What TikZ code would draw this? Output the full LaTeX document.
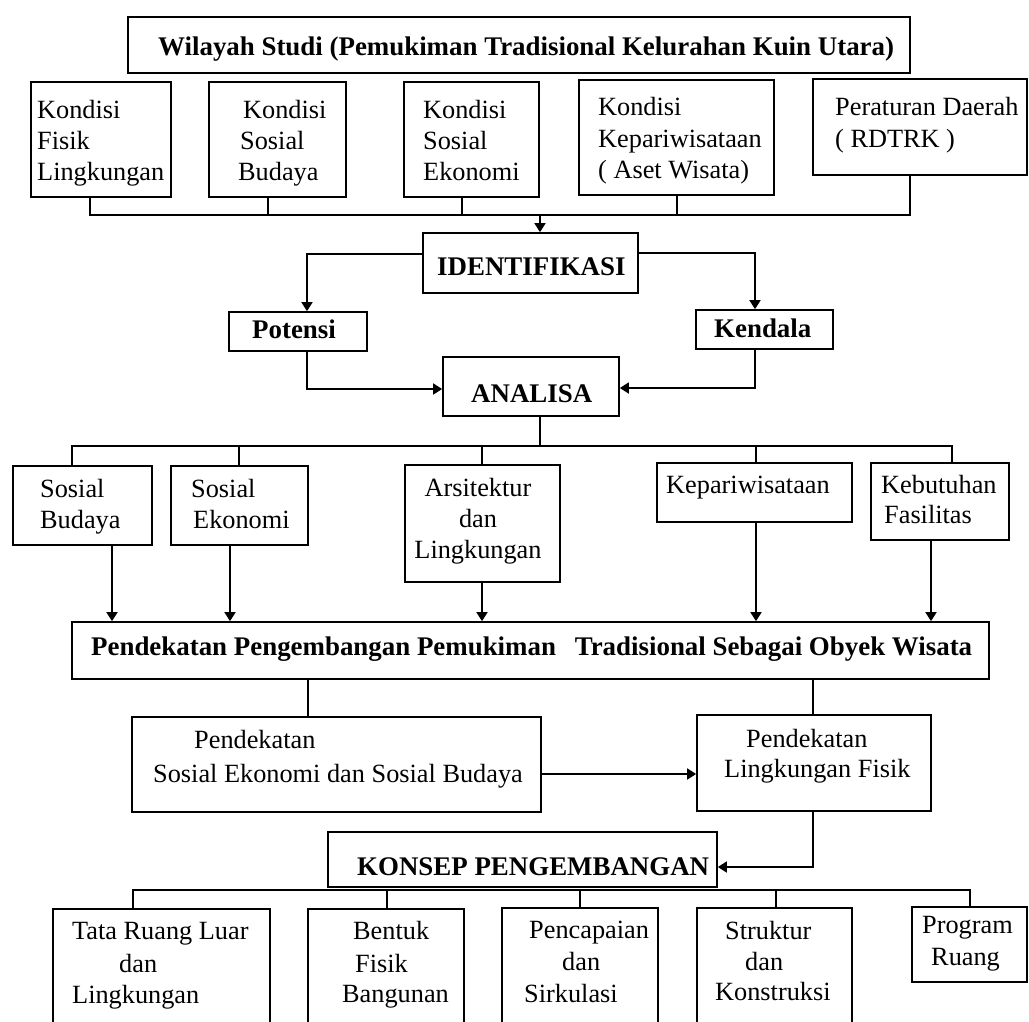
\documentclass[tikz,border=0pt]{standalone}
\usepackage{fontspec}
\setmainfont{Liberation Serif}
\usetikzlibrary{arrows.meta,fit}
\begin{document}
\begin{tikzpicture}[x=1pt,y=-1pt,
  box/.style={draw, line width=1.7pt, inner sep=0pt},
  txt/.style={inner sep=0pt, anchor=base west, align=left, font=\fontsize{26.3}{31}\selectfont},
  btxt/.style={inner sep=0pt, anchor=base west, align=left, font=\fontsize{26.9}{31}\selectfont\bfseries},
  con/.style={line width=1.7pt},
  arr/.style={line width=1.7pt, -{Triangle[length=9pt,width=11pt]}}]
\useasboundingbox (0,0) rectangle (1029,1021);
\clip (0,0) rectangle (1029,1021);

% ---------- boxes ----------
\node[box, fit={(128,17) (910,73)}] (title) {};
\node[box, fit={(31,82) (171,197)}] (b1) {};
\node[box, fit={(209,82) (346,197)}] (b2) {};
\node[box, fit={(404,82) (539,197)}] (b3) {};
\node[box, fit={(579,80) (774,195)}] (b4) {};
\node[box, fit={(813,79) (1027,175)}] (b5) {};
\node[box, fit={(423,233) (638,293)}] (id) {};
\node[box, fit={(229,312) (367,351)}] (pot) {};
\node[box, fit={(696,310) (833,349)}] (ken) {};
\node[box, fit={(443,357) (619,416)}] (an) {};
\node[box, fit={(13,466) (152,545)}] (c1) {};
\node[box, fit={(171,466) (308,545)}] (c2) {};
\node[box, fit={(405,465) (560,582)}] (c3) {};
\node[box, fit={(657,463) (852,522)}] (c4) {};
\node[box, fit={(871,463) (1009,540)}] (c5) {};
\node[box, fit={(72,622) (989,679)}] (pend) {};
\node[box, fit={(132,717) (541,812)}] (pse) {};
\node[box, fit={(697,715) (931,811)}] (plf) {};
\node[box, fit={(328,832) (717,887)}] (kon) {};
\node[box, fit={(53,909) (270,1060)}] (k1) {};
\node[box, fit={(308,909) (464,1060)}] (k2) {};
\node[box, fit={(502,908) (658,1060)}] (k3) {};
\node[box, fit={(697,908) (852,1060)}] (k4) {};
\node[box, fit={(912,907) (1027,982)}] (k5) {};

% ---------- texts (anchored at the baseline of the last line) ----------
\node[btxt] (ttitle) at (158,55) {Wilayah Studi (Pemukiman Tradisional Kelurahan Kuin Utara)};
\node[txt] (tb1) at (37,180) {Kondisi\\Fisik\\Lingkungan};
\node[txt] (tb2) at (238,180) {\hspace*{5pt}Kondisi\\\hspace*{2pt}Sosial\\Budaya};
\node[txt] (tb3) at (423,180) {Kondisi\\Sosial\\Ekonomi};
\node[txt] (tb4) at (598,178) {Kondisi\\[1pt]Kepariwisataan\\( Aset Wisata)};
\node[txt] (tb5) at (835,147) {Peraturan Daerah\\[1pt]( RDTRK )};
\node[btxt] (tid) at (437,275) {IDENTIFIKASI};
\node[btxt] (tpot) at (252,338) {Potensi};
\node[btxt] (tken) at (714,337) {Kendala};
\node[btxt] (tan) at (471,402) {ANALISA};
\node[txt] (tc1) at (40,528) {Sosial\\Budaya};
\node[txt] (tc2) at (191,528) {Sosial\\\hspace*{2pt}Ekonomi};
\node[txt, align=center, anchor=base] (tc3) at (478,558) {Arsitektur\\dan\\Lingkungan};
\node[txt] (tc4) at (666,493) {Kepariwisataan};
\node[txt] (tc5) at (881,523) {Kebutuhan\\[-1pt]\hspace*{3pt}Fasilitas};
\node[btxt] (tpend) at (91,655) {Pendekatan Pengembangan Pemukiman\hspace{0.45em} Tradisional Sebagai Obyek Wisata};
\node[txt] (tpse) at (153,782) {\hspace*{41pt}Pendekatan\\[3pt]Sosial Ekonomi dan Sosial Budaya};
\node[txt] (tplf) at (724,777) {\hspace*{22pt}Pendekatan\\[-1pt]Lingkungan Fisik};
\node[btxt] (tkon) at (357,875) {KONSEP PENGEMBANGAN};
\node[txt] (tk1) at (72,1003) {Tata Ruang Luar\\[2pt]\hspace*{47pt}dan\\Lingkungan};
\node[txt] (tk2) at (342,1002) {\hspace*{11pt}Bentuk\\[2pt]\hspace*{13pt}Fisik\\[-1pt]Bangunan};
\node[txt] (tk3) at (524,1002) {\hspace*{5pt}Pencapaian\\[1pt]\hspace*{38pt}dan\\[1pt]Sirkulasi};
\node[txt] (tk4) at (715,1000) {\hspace*{10pt}Struktur\\\hspace*{30pt}dan\\[-1pt]Konstruksi};
\node[txt] (tk5) at (922,965) {Program\\[1pt]\hspace*{9pt}Ruang};

% ---------- connectors ----------
% bus 1
\coordinate (s1) at (90,215);
\coordinate (s2) at (268,215);
\coordinate (s3) at (462,215);
\coordinate (s4) at (677,215);
\coordinate (s5) at (910,215);
\coordinate (j1) at (540,215);
\draw[con] (s1 |- b1.south) -- (s1) -- (s5) -- (s5 |- b5.south);
\draw[con] (s2 |- b2.south) -- (s2);
\draw[con] (s3 |- b3.south) -- (s3);
\draw[con] (s4 |- b4.south) -- (s4);
\draw[arr] (j1) -- (j1 |- id.north);
% identifikasi to potensi / kendala
\coordinate (pl) at (307,254);
\coordinate (kr) at (755,253);
\draw[arr] (pl -| id.west) -- (pl) -- (pl |- pot.north);
\draw[arr] (kr -| id.east) -- (kr) -- (kr |- ken.north);
% potensi / kendala to analisa
\coordinate (pa) at (307,389);
\coordinate (ka) at (755,388);
\draw[arr] (pa |- pot.south) -- (pa) -- (pa -| an.west);
\draw[arr] (ka |- ken.south) -- (ka) -- (ka -| an.east);
% bus 2
\coordinate (t0) at (540,446);
\coordinate (t1) at (72,446);
\coordinate (t2) at (239,446);
\coordinate (t3) at (482,446);
\coordinate (t4) at (756,446);
\coordinate (t5) at (952,446);
\draw[con] (t0 |- an.south) -- (t0);
\draw[con] (t1 |- c1.north) -- (t1) -- (t5) -- (t5 |- c5.north);
\draw[con] (t2) -- (t2 |- c2.north);
\draw[con] (t3) -- (t3 |- c3.north);
\draw[con] (t4) -- (t4 |- c4.north);
% analysis boxes to pendekatan
\coordinate (d1) at (112,0);
\coordinate (d2) at (230,0);
\coordinate (d3) at (482,0);
\coordinate (d4) at (756,0);
\coordinate (d5) at (931,0);
\draw[arr] (c1.south -| d1) -- (pend.north -| d1);
\draw[arr] (c2.south -| d2) -- (pend.north -| d2);
\draw[arr] (c3.south -| d3) -- (pend.north -| d3);
\draw[arr] (c4.south -| d4) -- (pend.north -| d4);
\draw[arr] (c5.south -| d5) -- (pend.north -| d5);
% pendekatan to pse / plf
\coordinate (e1) at (308,0);
\coordinate (e2) at (813,0);
\draw[con] (pend.south -| e1) -- (pse.north -| e1);
\draw[con] (pend.south -| e2) -- (plf.north -| e2);
\coordinate (f1) at (0,774);
\draw[arr] (pse.east |- f1) -- (plf.west |- f1);
% plf to konsep
\coordinate (g1) at (813,867);
\draw[arr] (plf.south -| g1) -- (g1) -- (g1 -| kon.east);
% bus 3
\coordinate (h1) at (133,890);
\coordinate (h2) at (387,890);
\coordinate (h3) at (580,890);
\coordinate (h4) at (776,890);
\coordinate (h5) at (970,890);
\draw[con] (h1 |- k1.north) -- (h1) -- (h5) -- (h5 |- k5.north);
\draw[con] (h2) -- (h2 |- k2.north);
\draw[con] (h3) -- (h3 |- k3.north);
\draw[con] (h4) -- (h4 |- k4.north);
\end{tikzpicture}
\end{document}
